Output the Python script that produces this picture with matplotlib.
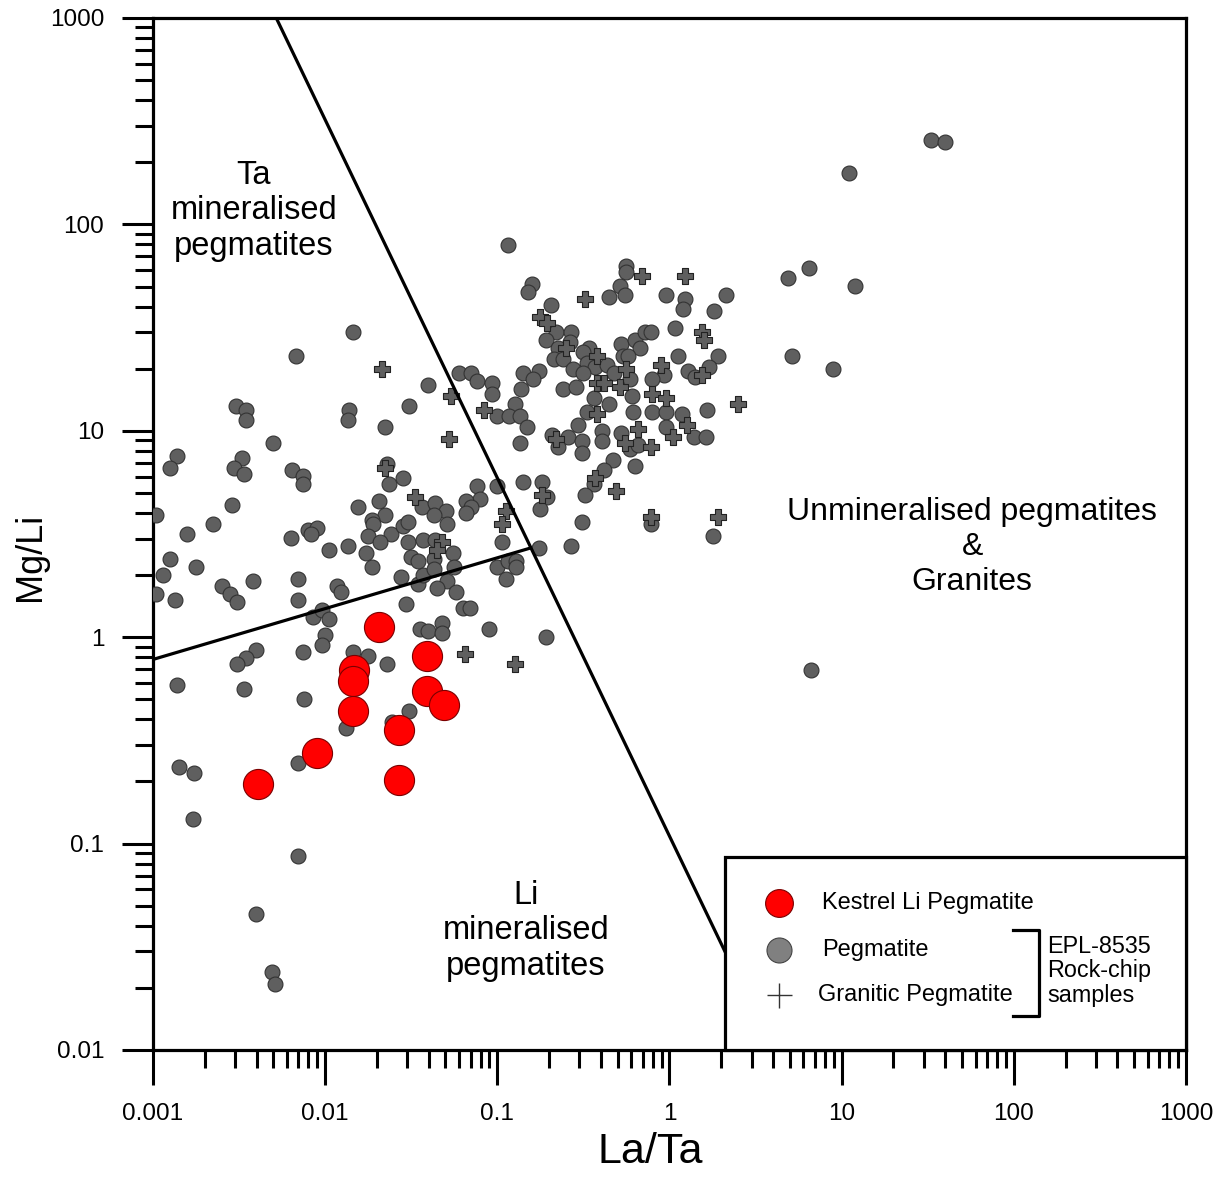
import numpy as np
import matplotlib
matplotlib.use("Agg")
import matplotlib.pyplot as plt
from matplotlib.ticker import FixedLocator, LogLocator, NullFormatter, FuncFormatter
from matplotlib.patches import Rectangle

plt.rcParams['font.family'] = ['Liberation Sans', 'DejaVu Sans']

# ==================================================
# DATA (log10 values)
# ==================================================

# EPL-8535 rock-chip samples: pegmatite (grey circles)
peg_log_la_ta = [
    -2.98, -2.86, -2.90, -2.80, -2.90, -2.94, -2.98, -2.87, -2.75, -2.65,
    -2.54, -2.60, -2.55, -2.51, -2.42, -2.52, -2.46, -2.46, -2.48, -2.53,
    -2.47, -2.30, -2.17, -2.19, -2.13, -2.13, -2.20, -2.10, -2.05, -2.08,
    -1.98, -2.16, -2.16, -2.40, -2.46, -2.51, -2.13, -2.00, -2.02, -2.07,
    -2.02, -1.98, -2.86, -2.47, -2.12, -2.85, -2.76, -2.77, -2.16, -2.16,
    -2.40, -2.31, -2.29,
    -1.84, -1.86, -1.87, -1.65, -1.64, -1.63, -1.55, -1.81, -1.69, -1.65,
    -1.73, -1.72, -1.75, -1.62, -1.68, -1.87, -1.76, -1.73, -1.93, -1.91,
    -1.56, -1.46, -1.43, -1.52, -1.43, -1.36, -1.50, -1.46, -1.37, -1.26,
    -1.25, -1.37, -1.29, -1.24, -1.35, -1.55, -1.52, -1.44, -1.36, -1.30,
    -1.37, -1.29, -1.40, -1.51, -1.22, -1.15, -1.12, -1.03, -1.03, -1.12,
    -1.10, -1.18, -1.15, -1.18, -1.00, -1.00, -0.94, -0.89, -0.89, -0.95,
    -0.97, -1.53, -1.20, -1.16, -1.45, -1.40, -1.32, -1.32, -1.05, -1.64,
    -1.84, -1.75, -1.88, -1.51, -1.61, -0.72,
    -0.90, -1.00, -0.93, -0.87, -0.83, -0.87, -0.85, -0.76, -0.79, -0.86,
    -0.85, -0.74, -0.71, -0.75, -0.76, -0.57, -0.51, -0.94, -0.80, -0.82,
    -0.69, -0.66, -0.57, -0.72, -0.58, -0.65, -0.67, -0.62, -0.47, -0.50,
    -0.48, -0.56, -0.43, -0.36, -0.32, -0.50, -0.28, -0.20, -0.17, -0.14,
    -0.11, -0.27, -0.24, -0.25, -0.25, -0.29, -0.35, -0.26, -0.02, 0.09,
    0.08, 0.33, 0.26, 0.03, 0.05, 0.28, 0.23, 0.11, 0.15, -0.03,
    -0.10, -0.23, -0.22, -0.44, -0.48, -0.35, -0.10, -0.02, 0.07, 0.22,
    -0.21, -0.53, -0.39, -0.39, -0.28, -0.02, 0.14, 0.21, -0.68, -0.59,
    -0.51, -0.51, -0.65, -0.23, -0.18, -0.33, -0.38, -0.20, -0.44, -0.49,
    0.69, 0.81, 1.08, 0.71, 0.95, 1.04, 1.52, 1.60, 0.82, 0.25,
    -0.11, -0.62, -0.54,
]
peg_log_mg_li = [
    0.59, 0.88, 0.82, 0.50, 0.38, 0.30, 0.21, 0.18, 0.34, 0.55,
    0.64, 0.25, 0.21, 0.17, 0.27, 1.12, 1.10, 1.05, 0.87, 0.82,
    0.79, 0.94, 1.36, 0.81, 0.78, 0.74, 0.48, 0.52, 0.53, 0.50,
    0.42, 0.28, 0.18, -0.06, -0.10, -0.13, -0.07, 0.01, -0.04, 0.10,
    0.13, 0.09, -0.23, -0.25, -0.30, -0.63, -0.66, -0.88, -0.61, -1.06,
    -1.34, -1.62, -1.68,
    1.48, 1.10, 1.05, 1.02, 0.84, 0.74, 0.77, 0.63, 0.66, 0.59,
    0.57, 0.55, 0.49, 0.50, 0.46, 0.44, 0.41, 0.34, 0.25, 0.22,
    0.29, 0.26, 0.30, 0.46, 0.47, 0.47, 0.39, 0.37, 0.38, 0.41,
    0.34, 0.33, 0.27, 0.22, 0.24, 0.54, 0.56, 0.63, 0.65, 0.61,
    0.59, 0.55, 1.22, 1.12, 1.28, 1.28, 1.24, 1.23, 1.18, 0.73,
    0.67, 0.66, 0.63, 0.60, 0.73, 0.34, 0.37, 0.37, 0.34, 0.28,
    0.46, 0.16, 0.14, 0.14, 0.04, 0.03, 0.07, 0.02, 0.04, -0.13,
    -0.07, -0.09, -0.44, -0.36, -0.41, 0.00,
    1.13, 1.07, 1.07, 1.07, 1.02, 0.94, 1.28, 1.29, 1.25, 1.20,
    0.75, 0.75, 0.68, 0.62, 0.43, 0.44, 0.56, 1.90, 1.71, 1.67,
    1.61, 1.48, 1.48, 1.44, 1.43, 1.40, 1.35, 1.35, 1.40, 1.38,
    1.33, 1.30, 1.31, 1.32, 1.28, 1.28, 1.42, 1.44, 1.40, 1.48,
    1.48, 1.36, 1.36, 1.80, 1.77, 1.70, 1.65, 1.66, 1.66, 1.64,
    1.59, 1.66, 1.58, 1.50, 1.36, 1.36, 1.31, 1.29, 1.26, 1.27,
    1.25, 1.25, 1.17, 1.16, 1.09, 1.13, 1.09, 1.09, 1.08, 1.10,
    1.09, 1.03, 1.00, 0.95, 0.99, 1.02, 0.97, 0.97, 0.98, 0.97,
    0.95, 0.89, 0.92, 0.91, 0.93, 0.86, 0.81, 0.83, 0.74, 0.69,
    1.74, 1.79, 1.70, 1.36, 1.30, 2.25, 2.41, 2.40, -0.16, 0.49,
    0.55, 1.20, 1.21,
]

# EPL-8535 rock-chip samples: granitic pegmatite (crosses)
gran_log_la_ta = [
    -1.67, -1.27, -1.08, -1.28, -1.65, -1.48, -1.32, -1.35, -1.19, -0.90,
    -0.95, -0.97, -0.74, -0.75, -0.71, -0.49, -0.16, 0.09, -0.60, -0.42,
    -0.42, -0.38, -0.25, -0.29, -0.42, -0.66, -0.26, -0.11, -0.18, -0.05,
    -0.10, -0.02, 0.19, 0.20, 0.19, 0.10, 0.02, 0.40, 0.28, -0.11,
    -0.43, -0.31,
]
gran_log_mg_li = [
    1.30, 1.17, 1.10, 0.96, 0.82, 0.68, 0.46, 0.42, -0.08, -0.13,
    0.61, 0.55, 0.69, 1.55, 1.52, 1.64, 1.75, 1.75, 1.40, 1.36,
    1.23, 1.23, 1.30, 1.21, 1.08, 0.96, 0.94, 0.92, 1.01, 1.32,
    1.18, 1.16, 1.48, 1.44, 1.27, 1.03, 0.97, 1.13, 0.58, 0.58,
    0.77, 0.71,
]

# Kestrel Li pegmatite (red circles)
kes_log_la_ta = [-1.69, -1.83, -1.84, -1.84, -2.05, -2.39, -1.41, -1.41, -1.31, -1.57, -1.57]
kes_log_mg_li = [0.05, -0.16, -0.21, -0.36, -0.56, -0.71, -0.09, -0.26, -0.33, -0.45, -0.69]

# field boundaries
ta_line_x = [0.0052, 2.1]
ta_line_y = [1000, 0.03]
li_line_x = [0.001, 0.155]
li_line_y = [0.78, 2.7]

decades = [0.001, 0.01, 0.1, 1, 10, 100, 1000]

# ==================================================
# PLOT
# ==================================================

fig = plt.figure(figsize=(12.16, 11.82), dpi=100)
ax = fig.add_axes([0.1258, 0.1117, 0.8495, 0.8731])

ax.scatter(10 ** np.array(peg_log_la_ta), 10 ** np.array(peg_log_mg_li),
           s=115, c='#5f5f5f', edgecolors='#333333', linewidths=0.8, zorder=3)
ax.scatter(10 ** np.array(gran_log_la_ta), 10 ** np.array(gran_log_mg_li),
           marker='P', s=140, c='#5f5f5f', edgecolors='#222222', linewidths=0.8, zorder=4)
ax.scatter(10 ** np.array(kes_log_la_ta), 10 ** np.array(kes_log_mg_li),
           s=470, c='#ff0000', edgecolors='#7a0000', linewidths=0.8, zorder=5)

ax.plot(ta_line_x, ta_line_y, color='black', lw=2.3, zorder=6)
ax.plot(li_line_x, li_line_y, color='black', lw=2.3, zorder=6)

ax.set_xscale('log')
ax.set_yscale('log')
ax.set_xlim(0.001, 1000)
ax.set_ylim(0.01, 1000)

for sp in ax.spines.values():
    sp.set_linewidth(2.3)

fmt = FuncFormatter(lambda v, p: f"{v:g}")
for axis in (ax.xaxis, ax.yaxis):
    axis.set_major_locator(FixedLocator(decades))
    axis.set_minor_locator(LogLocator(base=10, subs=range(2, 10), numticks=100))
    axis.set_major_formatter(fmt)
    axis.set_minor_formatter(NullFormatter())

ax.tick_params(axis='both', which='both', direction='out', width=2.2,
               top=False, right=False, labelsize=17.5, pad=13)
ax.tick_params(axis='y', which='major', length=22)
ax.tick_params(axis='x', which='major', length=25)
ax.tick_params(axis='both', which='minor', length=13)

fig.text(0.535, 0.0254, "La/Ta", fontsize=31, ha='center', va='center')
fig.text(0.0247, 0.529, "Mg/Li", fontsize=26, rotation=90, ha='center', va='center')

# field labels
ax.text(0.0978, 0.813, "Ta\nmineralised\npegmatites", transform=ax.transAxes,
        fontsize=23.5, ha='center', va='center', linespacing=1.2)
ax.text(0.793, 0.4874, "Unmineralised pegmatites\n&\nGranites", transform=ax.transAxes,
        fontsize=23, ha='center', va='center', linespacing=1.2)
ax.text(0.361, 0.1153, "Li\nmineralised\npegmatites", transform=ax.transAxes,
        fontsize=23.5, ha='center', va='center', linespacing=1.2)

# legend box
ax.add_patch(Rectangle((0.5537, 0), 1 - 0.5537, 0.187, transform=ax.transAxes,
                       facecolor='white', edgecolor='black', lw=2.3, zorder=7, clip_on=False))
ax.plot([0.606], [0.1424], 'o', ms=20, mfc='#ff0000', mec='#7a0000', mew=0.8,
        transform=ax.transAxes, zorder=8, clip_on=False)
ax.plot([0.606], [0.0969], 'o', ms=18, mfc='#808080', mec='#444444', mew=0.8,
        transform=ax.transAxes, zorder=8, clip_on=False)
ax.plot([0.606], [0.0533], '+', ms=18, mec='#333333', mew=1.0,
        transform=ax.transAxes, zorder=8, clip_on=False)
ax.text(0.6476, 0.1424, "Kestrel Li Pegmatite", transform=ax.transAxes,
        fontsize=17, ha='left', va='center', zorder=9)
ax.text(0.6476, 0.0969, "Pegmatite", transform=ax.transAxes,
        fontsize=17, ha='left', va='center', zorder=9)
ax.text(0.6437, 0.0533, "Granitic Pegmatite", transform=ax.transAxes,
        fontsize=17, ha='left', va='center', zorder=9)
ax.plot([0.8325, 0.8577, 0.8577, 0.8325], [0.1163, 0.1163, 0.0329, 0.0329],
        color='black', lw=2.3, transform=ax.transAxes, zorder=9, clip_on=False)
ax.text(0.8654, 0.0766, "EPL-8535\nRock-chip\nsamples", transform=ax.transAxes,
        fontsize=16.8, ha='left', va='center', linespacing=1.1, zorder=9)

fig.savefig("out.png", dpi=100, facecolor='white')
